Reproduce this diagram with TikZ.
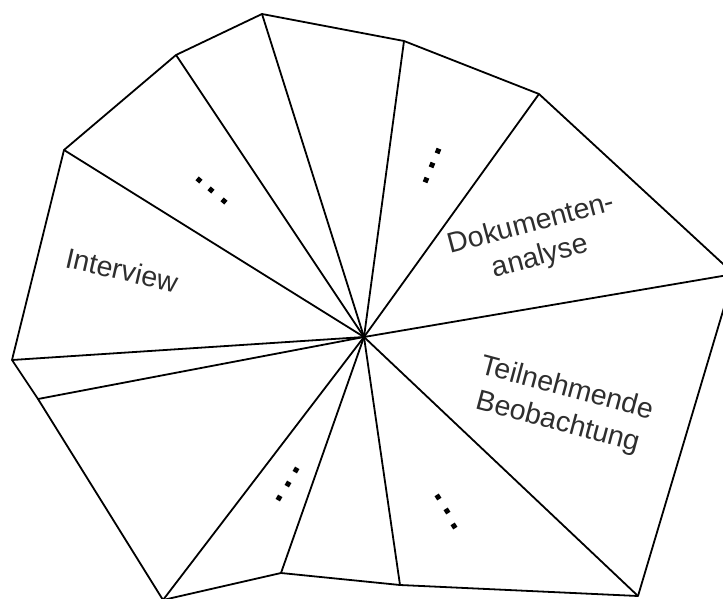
\documentclass[tikz,border=0pt]{standalone}
\usepackage{fontspec}
\setmainfont{Liberation Sans}
\begin{document}
\begin{tikzpicture}[x=1pt,y=-1pt,line join=round,
  edge/.style={line width=1.8pt},
  methodlabel/.style={font=\fontsize{28.5}{34}\selectfont,text=black!82,align=center,inner sep=0pt},
  dotsq/.style={rectangle,fill=black,minimum size=5pt,inner sep=0pt}]
\useasboundingbox (0,0) rectangle (723,599);
\clip (0,0) rectangle (723,599);
% hub and outer corners
\coordinate (c) at (364,337);
\coordinate (p1) at (262,14);
\coordinate (p2) at (404,41);
\coordinate (p3) at (539,94);
\coordinate (p4) at (734,274);
\coordinate (p5) at (638,596);
\coordinate (p6) at (400,585);
\coordinate (p7) at (281,573);
\coordinate (p8) at (163,600);
\coordinate (p9) at (38,399);
\coordinate (p10) at (12,360);
\coordinate (p11) at (64,150);
\coordinate (p12) at (176,55);
% outline
\draw[edge] (p1) -- (p2) -- (p3) -- (p4) -- (p5) -- (p6) -- (p7) -- (p8)
  -- (p9) -- (p10) -- (p11) -- (p12) -- cycle;
% spokes
\foreach \p in {p1,p2,p3,p4,p5,p6,p7,p8,p9,p10,p11,p12}
  \draw[edge] (c) -- (\p);
% segment labels
\node[methodlabel,rotate=-13] (interview) at (122,270) {Interview};
\node[methodlabel,rotate=15] (doku) at (536,241) {Dokumenten-\\analyse};
\node[methodlabel,rotate=-15] (teiln) at (562,406) {Teilnehmende\\[1pt]Beobachtung};
% ellipses in the unnamed segments
\foreach \x/\y/\a in {199/180/-40,211/190/-40,224/201/-40,
                      438/151/67,432/165/67,426/180/67,
                      296/470/60,288/484/60,279/498/60,
                      438/497/-58,447/511/-58,454/526/-58}
  \node[dotsq,rotate=\a] at (\x,\y) {};
\end{tikzpicture}
\end{document}
